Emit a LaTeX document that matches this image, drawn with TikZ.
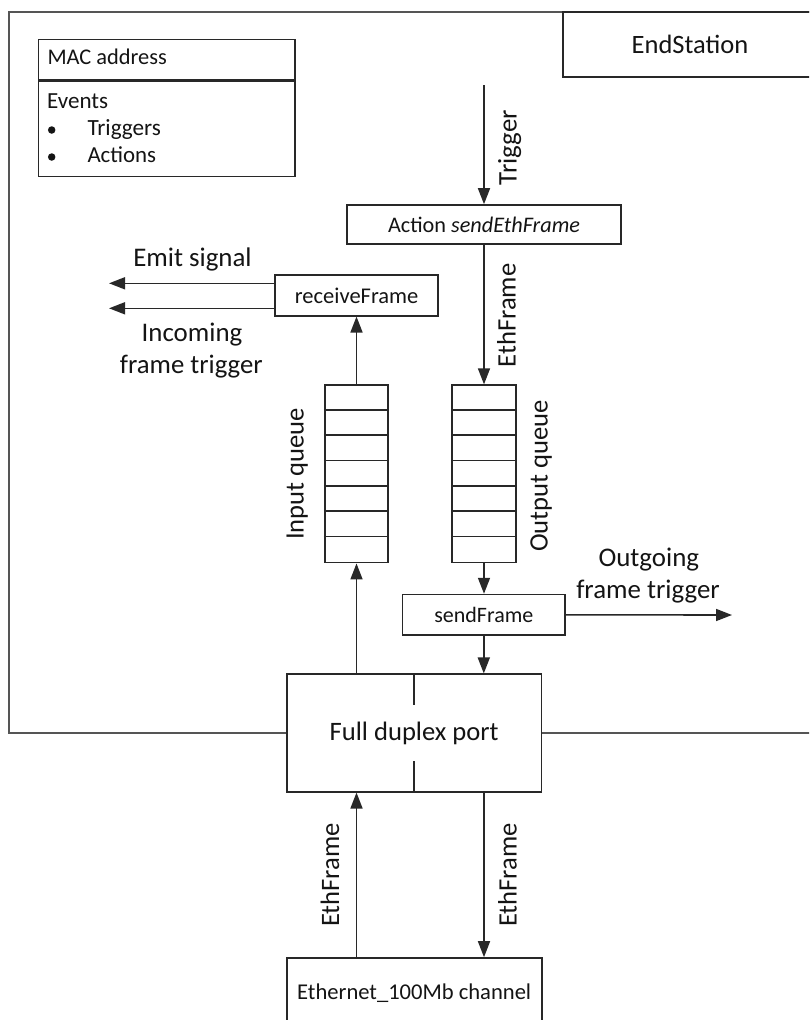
\documentclass[tikz,border=0pt]{standalone}
\usepackage{fontspec}
\setmainfont{Carlito}
\usetikzlibrary{arrows.meta,calc}
\definecolor{boxc}{RGB}{40,40,40}
\definecolor{framec}{RGB}{85,85,85}
\definecolor{txtc}{RGB}{20,20,20}
\newcommand{\fitw}[2]{\resizebox{#1pt}{!}{#2}}
\begin{document}
\begin{tikzpicture}[x=1pt,y=-1pt,
  box/.style={draw=boxc, fill=white, inner sep=0pt, line width=1.6pt, text=txtc},
  frameline/.style={draw=framec, line width=1.6pt},
  tick/.style={draw=boxc, line width=1.6pt},
  arr/.style={draw=boxc, line width=1.6pt, -{Triangle[length=16pt,width=12pt]}},
  lbl/.style={inner sep=0pt, text=txtc, anchor=base},
  vlbl/.style={lbl, rotate=90},
  bullet/.style={circle, fill=txtc, minimum size=7.5pt, inner sep=0pt}
]
\useasboundingbox (0,0) rectangle (809,1020);
\clip (0,0) rectangle (809,1020);
\fill[white] (0,0) rectangle (809,1020);

% outer EndStation frame
\draw[frameline] (830,733) -- (9,733) -- (9,12) -- (830,12);

% EndStation title box
\node[box, minimum width=254, minimum height=65] (es) at (690,44.5) {\fitw{116.6}{EndStation}};

% MAC / events box
\node[box, anchor=north west, minimum width=256.7, minimum height=40] (mac) at (37.5,38.5) {};
\node[box, anchor=north west, minimum width=256.7, minimum height=95.7] (ev) at (mac.south west) {};
\node[lbl, anchor=base west] (macT) at (47.3,64.3) {\fitw{119.4}{MAC address}};
\node[lbl, anchor=base west] (evT) at (47,108.3) {\fitw{61}{Events}};
\node[bullet] (b1) at (51.7,130) {};
\node[bullet] (b2) at (51.7,157) {};
\node[lbl, anchor=base west] (trT) at (87.3,135) {\fitw{73.4}{Triggers}};
\node[lbl, anchor=base west] (acT) at (87.3,162.3) {\fitw{68.7}{Actions}};

% main boxes
\node[box, minimum width=274, minimum height=39] (act) at (484,224.5) {\fitw{192}{Action \textit{sendEthFrame}}};
\node[box, minimum width=163, minimum height=40.5] (rf) at (356.6,295.5) {\fitw{123.4}{receiveFrame}};
\node[box, minimum width=63.5, minimum height=177.5] (iq) at (356.5,473.9) {};
\node[box, minimum width=64, minimum height=177.5] (oq) at (484,473.9) {};
\foreach \i in {1,...,6}{
  \draw[tick] ($(iq.north west)+(0,\i*25.357)$) -- ($(iq.north east)+(0,\i*25.357)$);
  \draw[tick] ($(oq.north west)+(0,\i*25.357)$) -- ($(oq.north east)+(0,\i*25.357)$);
}
\node[box, minimum width=162.5, minimum height=40.5] (sf) at (483.8,614.8) {\fitw{99}{sendFrame}};
\node[box, minimum width=254.5, minimum height=117.5] (port) at (414.2,733) {\fitw{169}{Full duplex port}};
\draw[tick] (port.north) -- ++(0,32);
\draw[tick] (port.south) -- ++(0,-32);
\node[box, minimum width=255, minimum height=70] (ch) at (414.2,993) {\fitw{234}{Ethernet\_100Mb channel}};

% free ends
\coordinate (trigTop) at (484,85);
\coordinate (emitEnd) at (109,283.3);
\coordinate (incEnd) at (109,308.3);
\coordinate (outEnd) at (732,615);

% connectors
\draw[arr] (trigTop) -- (act.north);
\draw[arr] (act.south) -- (oq.north);
\draw[arr] (iq.north) -- (rf.south -| iq.north);
\draw[arr] (rf.west |- emitEnd) -- (emitEnd);
\draw[arr] (rf.west |- incEnd) -- (incEnd);
\draw[arr] (port.north -| iq.south) -- (iq.south);
\draw[arr] (oq.south) -- (sf.north -| oq.south);
\draw[arr] (sf.south) -- (port.north -| sf.south);
\draw[arr] (sf.east) -- (outEnd);
\draw[arr] (ch.north -| iq.south) -- (port.south -| iq.south);
\draw[arr] (port.south -| oq.south) -- (ch.north -| oq.south);

% labels
\node[vlbl] (trigL) at (516.7,147.5) {\fitw{75}{Trigger}};
\node[vlbl] (ef1) at (515.5,315.5) {\fitw{104}{EthFrame}};
\node[vlbl] (iqL) at (303.5,474) {\fitw{131.7}{Input queue}};
\node[vlbl] (oqL) at (547.5,476) {\fitw{151.7}{Output queue}};
\node[vlbl] (ef2) at (339,875) {\fitw{103.7}{EthFrame}};
\node[vlbl] (ef3) at (516.5,875) {\fitw{103.7}{EthFrame}};

\node[lbl] (emitL) at (192.5,266) {\fitw{118.4}{Emit signal}};
\node[lbl] (inc1) at (192,341.7) {\fitw{100.6}{Incoming}};
\node[lbl] (inc2) at (191.3,373.3) {\fitw{142.7}{frame trigger}};
\node[lbl] (out1) at (648.8,566) {\fitw{100.6}{Outgoing}};
\node[lbl] (out2) at (648,598.3) {\fitw{143.4}{frame trigger}};
\end{tikzpicture}
\end{document}
